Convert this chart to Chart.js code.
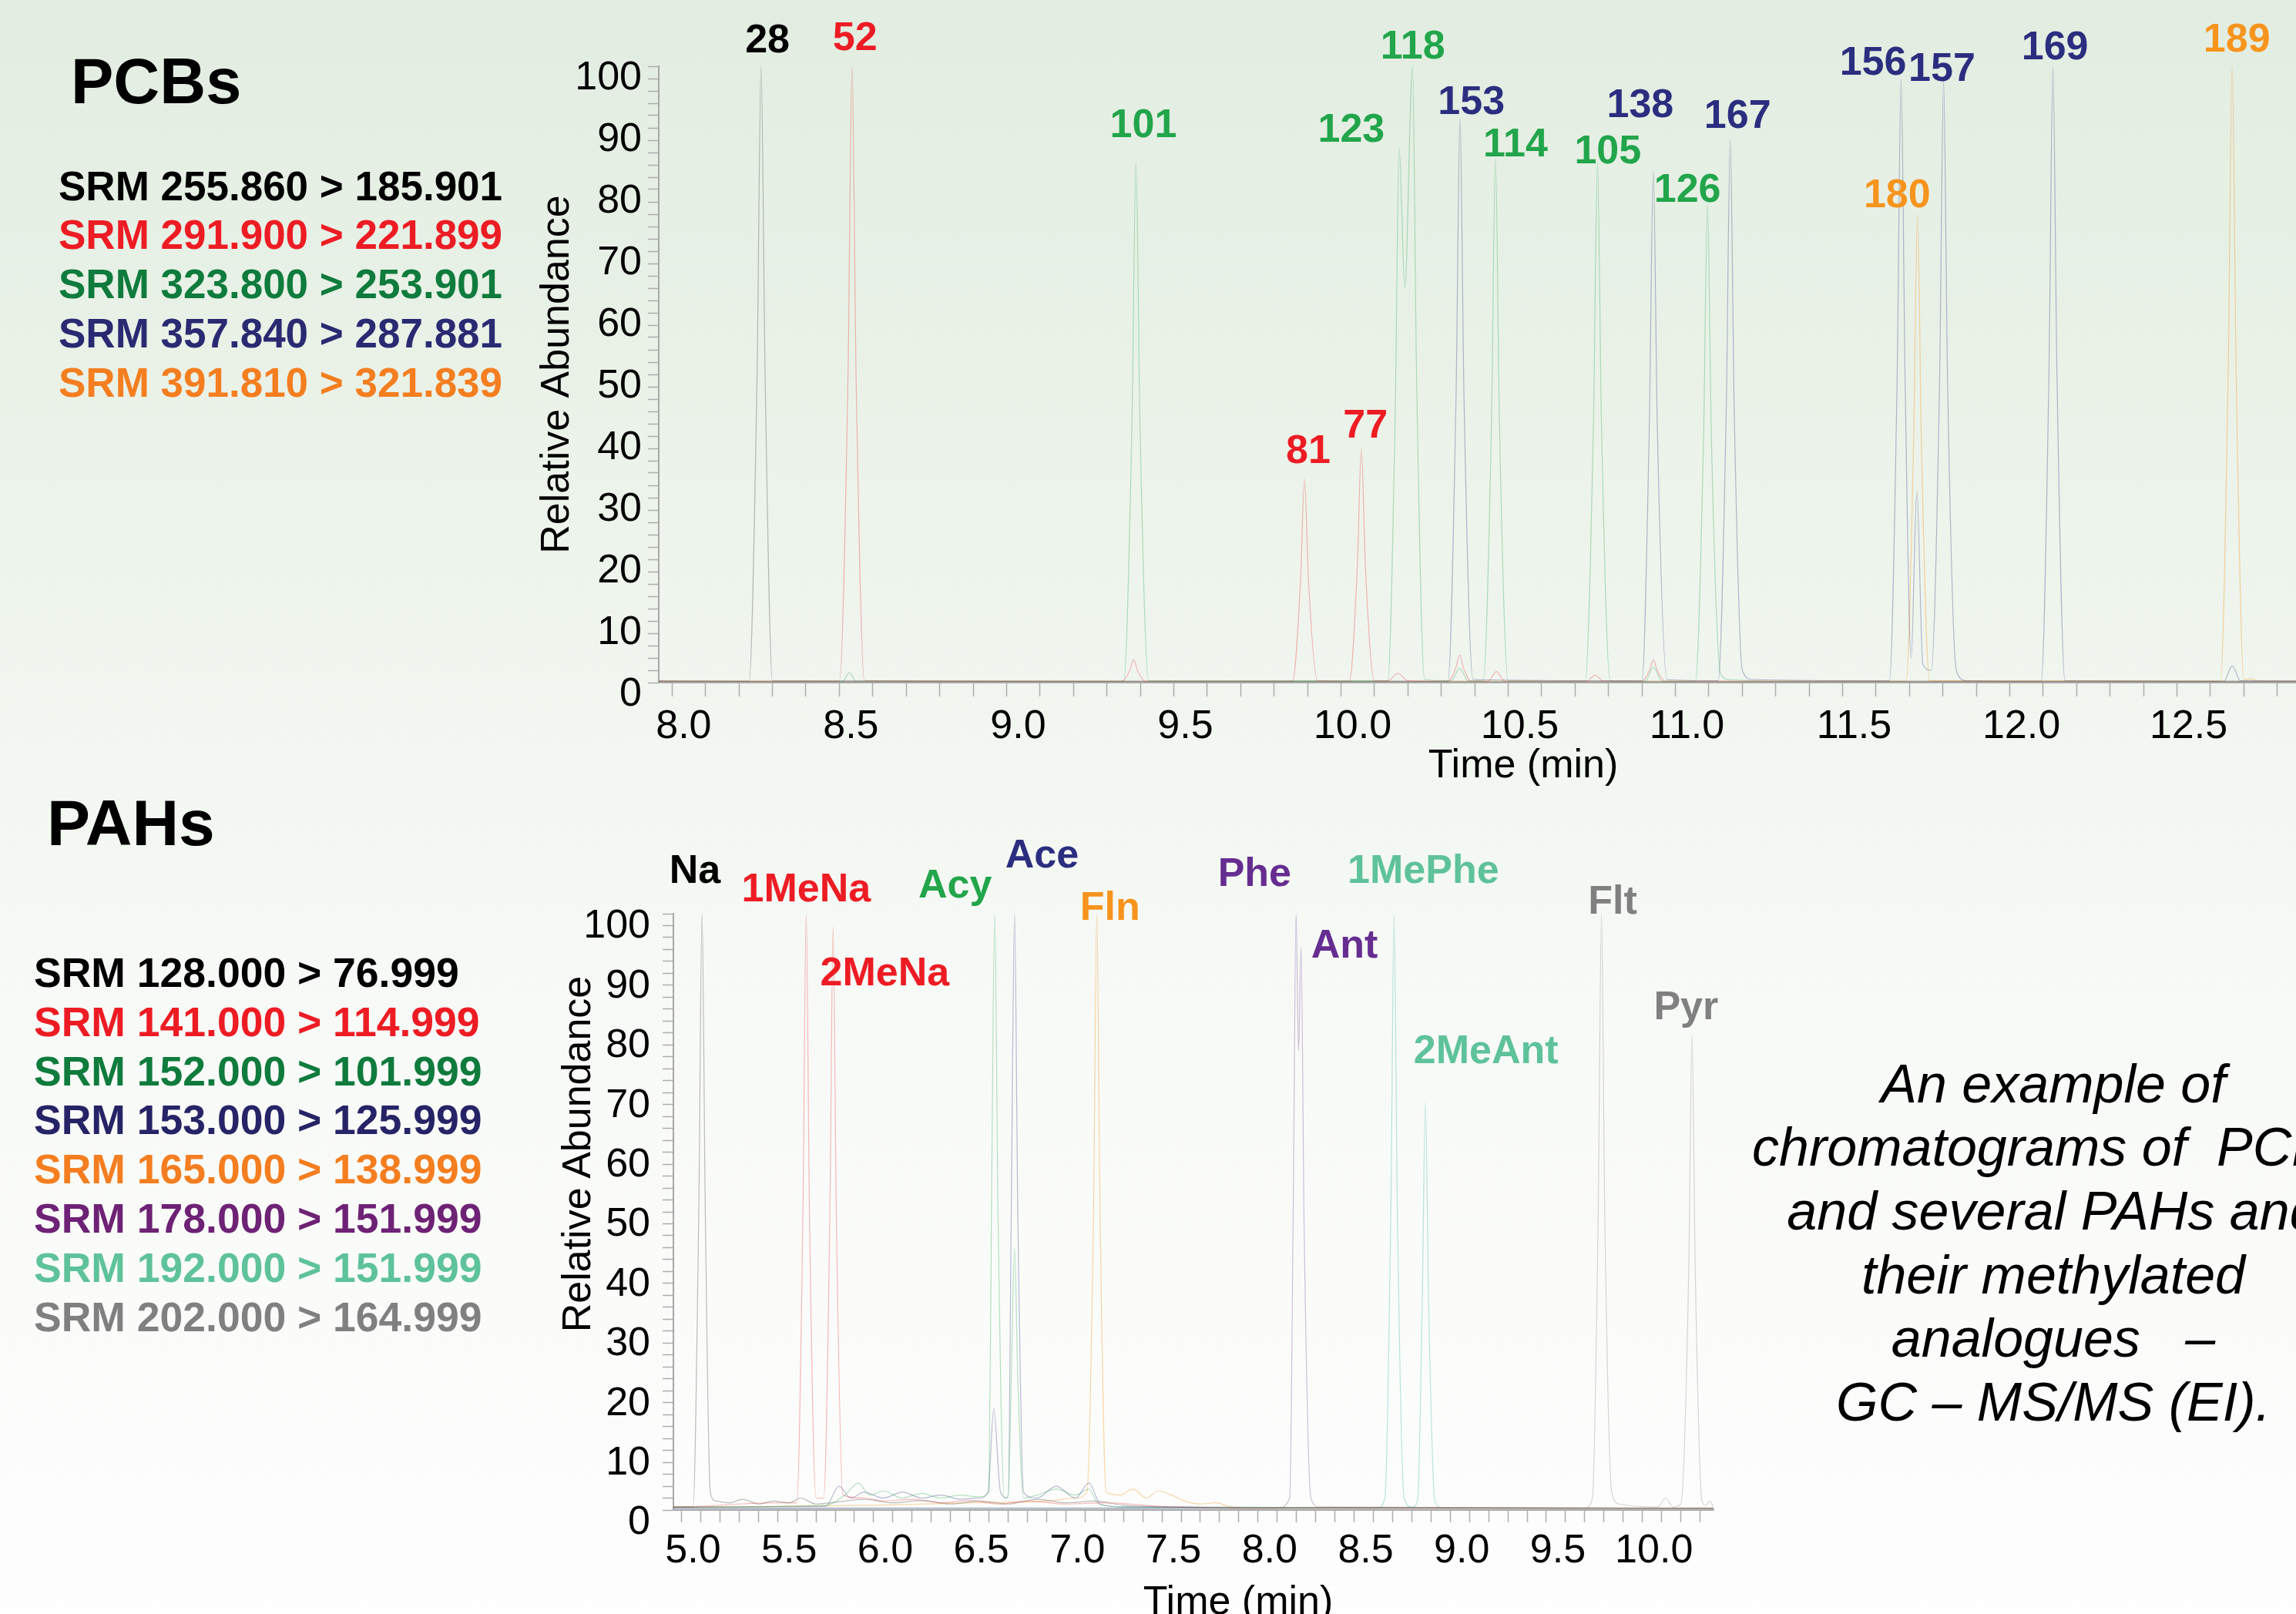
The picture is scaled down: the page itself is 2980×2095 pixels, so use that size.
<!DOCTYPE html>
<html>
<head>
<meta charset="utf-8">
<script src="https://cdn.jsdelivr.net/npm/chart.js@4.4.1/dist/chart.umd.min.js"></script>
<style>
  html, body { margin: 0; padding: 0; }
  body {
    width: 2980px; height: 2095px; overflow: hidden; position: relative;
    background: linear-gradient(to bottom, #e2ede1 0px, #eaf2e8 500px, #f2f7f1 1000px, #f8faf7 1350px, #fdfefd 2095px);
    font-family: "Liberation Sans", Arial, sans-serif;
  }
  canvas { position: absolute; left: 0; }
  #pcbChart { top: 0; }
  #pahChart { top: 1060px; }
  .txt { position: absolute; white-space: pre; line-height: 1; z-index: 2; }
  .head { font-weight: bold; color: #000; }
  .leg { font-weight: bold; }
  .cap { font-style: italic; font-size: 70px; width: 1200px; text-align: center; color: #000; }
  .axt { font-size: 52px; width: 600px; height: 52px; line-height: 52px; text-align: center; color: #000; }
</style>
</head>
<body>
<canvas id="pcbChart" width="3100" height="1060"></canvas>
<canvas id="pahChart" width="2980" height="1035"></canvas>
<div id="texts"></div>
<script>
// ---- PCB chromatogram (time min, relative abundance %) ----
const pcbCh1 = [[7.96,0.3],[8.23,0.2],[8.254,50],[8.266,100],[8.278,50],[8.30,0.3],[9.0,0.2],[11.0,0.2],[13.13,0.2]];
const pcbCh2 = [[7.96,0.2],[8.50,0.2],[8.526,50],[8.538,100],[8.550,50],[8.575,0.3],[9.345,0.2],[9.368,1.9],[9.38,3.7],[9.392,1.9],[9.415,0.2],
  [9.855,0.2],[9.879,16.5],[9.891,33],[9.903,16.5],[9.93,0.3],[10.025,0.2],[10.049,19],[10.061,38],[10.073,19],[10.10,0.3],
  [10.14,0.3],[10.17,1.5],[10.20,0.3],[10.32,0.2],[10.343,2.3],[10.355,4.5],[10.367,2.3],[10.39,0.2],[10.44,0.2],[10.465,1.8],[10.49,0.2],
  [10.735,0.2],[10.76,1.2],[10.785,0.2],[10.90,0.2],[10.922,1.9],[10.934,3.7],[10.946,1.9],[10.97,0.2],[13.13,0.2]];
const pcbCh3 = [[7.96,0.2],[8.51,0.2],[8.53,1.6],[8.55,0.2],[9.35,0.2],[9.375,42],[9.387,84.5],[9.399,42],[9.425,0.3],
  [10.14,0.3],[10.162,43],[10.174,86.7],[10.191,64],[10.214,100],[10.226,50],[10.25,0.5],[10.33,0.3],[10.355,2.3],[10.38,0.3],
  [10.425,0.3],[10.45,42],[10.462,85],[10.474,42],[10.50,0.3],[10.73,0.2],[10.755,42],[10.767,84.5],[10.779,42],[10.805,0.3],
  [10.91,0.2],[10.934,2.5],[10.96,0.2],[11.06,0.2],[11.084,39],[11.096,77.6],[11.108,39],[11.135,1.5],[11.16,0.5],[11.30,0.2],[13.13,0.2]];
const pcbCh4 = [[7.96,0.2],[10.32,0.2],[10.344,46],[10.356,91.5],[10.368,46],[10.395,0.5],[10.90,0.3],[10.922,41.5],[10.934,83],[10.946,41.5],[10.975,0.5],
  [11.128,0.3],[11.152,44],[11.164,88],[11.176,44],[11.20,2],[11.23,0.5],[11.64,0.3],[11.663,49],[11.675,98],[11.687,49],[11.705,4],
  [11.722,31],[11.74,3],[11.765,2],[11.79,48.7],[11.802,97.5],[11.814,48.7],[11.84,2],[11.87,0.3],[12.094,0.2],[12.117,50],[12.129,100],
  [12.141,50],[12.165,0.3],[12.64,0.2],[12.665,2.7],[12.69,0.3],[13.13,0.2]];
const pcbCh5 = [[7.96,0.2],[11.69,0.2],[11.712,38],[11.724,76],[11.736,38],[11.76,0.3],[12.63,0.2],[12.653,50],[12.665,100],[12.677,50],
  [12.70,0.5],[12.72,0.6],[12.75,0.2],[13.13,0.2]];
const pcbChannels = ['SRM 255.860 > 185.901', 'SRM 291.900 > 221.899', 'SRM 323.800 > 253.901', 'SRM 357.840 > 287.881', 'SRM 391.810 > 321.839'];
const pcbPeakNames = ['28','52','101','81','77','123','118','153','114','105','138','126','167','156','180','157','169','189'];
const pcbPeakChannel = [0,1,2,1,1,2,2,3,2,2,3,2,3,3,4,3,3,4];
const pcbPeakAnchor = [[8.285,102.2],[8.547,102.6],[9.409,88.5],[9.902,35.6],[10.073,39.8],[10.031,87.7],[10.215,101.2],[10.390,92.2],
  [10.522,85.4],[10.798,84.2],[10.895,91.7],[11.036,78],[11.186,90],[11.591,98.6],[11.663,77.1],[11.797,97.6],[12.135,101.1],[12.679,102.4]];
const pcbRangeX = [7.96, 13.13];

// ---- PAH chromatogram ----
const pahCh1 = [[4.958,0.5],[5.06,0.5],[5.09,50],[5.107,100],[5.124,50],[5.15,3],[5.18,1.5],[5.25,1.2],[5.32,1.8],[5.40,1.0],[5.48,1.5],
  [5.56,1.2],[5.62,2],[5.70,1.0],[5.80,1.3],[5.95,1.8],[6.10,1.2],[6.25,1.6],[6.40,1.0],[6.55,1.5],[6.70,1.0],[6.85,1.8],[7.00,1.2],
  [7.15,1.5],[7.30,0.8],[7.60,0.5],[8.0,0.3],[10.37,0.3]];
const pahCh2 = [[4.958,0.5],[5.1,0.6],[5.3,1.0],[5.5,1.2],[5.60,1.2],[5.632,50],[5.649,100],[5.666,50],[5.70,2],[5.74,2],[5.772,49],
  [5.789,97.8],[5.806,49],[5.84,2.5],[5.95,2],[6.05,1.5],[6.20,1.8],[6.35,1.2],[6.50,1.6],[6.65,1.0],[6.80,1.5],[7.00,1.0],[7.20,1.2],
  [7.50,0.6],[8.0,0.3],[10.37,0.3]];
const pahCh3 = [[4.958,0.5],[5.75,0.8],[5.85,2.5],[5.92,4.5],[5.98,2.5],[6.05,3.2],[6.15,2],[6.25,2.8],[6.35,2],[6.45,2.5],[6.55,2.2],
  [6.60,3],[6.613,50],[6.63,100],[6.647,50],[6.68,2],[6.70,2.5],[6.716,22],[6.733,44],[6.75,22],[6.78,2],[6.85,2.5],[6.95,3.5],
  [7.05,2.5],[7.12,3.5],[7.17,1],[7.3,0.5],[10.37,0.3]];
const pahCh4 = [[4.958,0.5],[5.75,0.6],[5.82,4],[5.88,2],[5.95,3],[6.05,2],[6.15,3],[6.25,2],[6.35,2.5],[6.45,1.8],[6.55,2],[6.595,3],
  [6.625,17],[6.66,3],[6.70,2],[6.716,50],[6.733,100],[6.75,50],[6.78,3],[6.85,2],[6.95,4],[7.05,2],[7.12,4.5],[7.18,1],[7.3,0.5],[10.37,0.3]];
const pahCh5 = [[4.958,0.5],[5.5,0.6],[6.0,0.8],[6.5,1.2],[6.9,1.5],[7.05,2],[7.11,3],[7.144,50],[7.161,100],[7.178,50],[7.21,3],[7.28,2.5],
  [7.35,3.5],[7.42,2],[7.48,3.2],[7.55,2.5],[7.62,1.5],[7.70,1],[7.78,1.2],[7.85,0.6],[7.95,0.4],[10.37,0.3]];
const pahCh6 = [[4.958,0.3],[8.10,0.3],[8.165,2],[8.183,50],[8.198,100],[8.211,77],[8.224,94.3],[8.24,47],[8.275,2],[8.32,0.5],[10.37,0.3]];
const pahCh7 = [[4.958,0.3],[8.62,0.3],[8.66,2],[8.691,50],[8.708,100],[8.725,50],[8.76,2],[8.80,0.5],[8.83,1.5],[8.854,34],[8.871,68.3],
  [8.888,34],[8.92,1.5],[8.96,0.3],[10.37,0.3]];
const pahCh8 = [[4.958,0.3],[9.70,0.3],[9.74,2],[9.77,50],[9.787,100],[9.804,50],[9.84,3],[9.88,1],[10.08,0.5],[10.12,2],[10.16,0.5],
  [10.20,1],[10.241,40],[10.258,79.8],[10.275,40],[10.31,1.5],[10.33,0.8],[10.35,1.5],[10.37,0.5]];
const pahChannels = ['SRM 128.000 > 76.999', 'SRM 141.000 > 114.999', 'SRM 152.000 > 101.999', 'SRM 153.000 > 125.999',
  'SRM 165.000 > 138.999', 'SRM 178.000 > 151.999', 'SRM 192.000 > 151.999', 'SRM 202.000 > 164.999'];
const pahPeakNames = ['Na','1MeNa','2MeNa','Acy','Ace','Fln','Phe','1MePhe','Ant','2MeAnt','Flt','Pyr'];
const pahPeakChannel = [0,1,1,2,3,4,5,6,5,6,7,7];
const pahPeakAnchor = [[5.070,105.2],[5.649,102.1],[6.058,88.0],[6.424,102.7],[6.876,107.8],[7.230,99.0],[7.982,104.6],[8.860,105.2],
  [8.450,92.6],[9.186,74.9],[9.845,100],[10.227,82.3]];
const pahRangeX = [4.958, 10.37];

const captionLines = ['An example of', 'chromatograms of  PCBs', 'and several PAHs and', 'their methylated', 'analogues   \u2013', 'GC \u2013 MS/MS (EI).'];

// colours
const pcbTrace = ['rgba(110,110,110,0.45)', 'rgba(237,28,36,0.3)', 'rgba(34,165,75,0.32)', 'rgba(43,46,127,0.32)', 'rgba(247,148,29,0.38)'];
const pcbLabelCol = ['#000000', '#ed1c24', '#22a54b', '#2b2e7f', '#f7941d'];
const pcbLegendCol = ['#000000', '#ed1c24', '#0f7b3d', '#2a2a72', '#f47e20'];
const pahTrace = ['rgba(110,110,110,0.45)', 'rgba(237,28,36,0.3)', 'rgba(34,165,75,0.32)', 'rgba(43,46,127,0.32)',
  'rgba(247,148,29,0.38)', 'rgba(102,45,145,0.3)', 'rgba(60,180,170,0.35)', 'rgba(140,140,140,0.35)'];
const pahLabelCol = ['#000000', '#ed1c24', '#22a54b', '#2b2e7f', '#f7941d', '#662d91', '#5ec29a', '#808080'];
const pahLegendCol = ['#000000', '#ed1c24', '#0f7b3d', '#262466', '#f47e20', '#6e2275', '#5ec29a', '#808080'];

const FAM = '"Liberation Sans", Arial, sans-serif';
const axisFont = {family: FAM, size: 52};

const peakLabels = {
  id: 'peakLabels',
  afterDatasetsDraw(chart, args, opts) {
    const {ctx} = chart;
    const x = chart.scales.x, y = chart.scales.y;
    ctx.save();
    ctx.font = 'bold 52px ' + FAM;
    ctx.textAlign = 'center';
    ctx.textBaseline = 'alphabetic';
    opts.names.forEach((n, i) => {
      ctx.fillStyle = opts.colors[opts.channel[i]];
      ctx.fillText(n, x.getPixelForValue(opts.anchor[i][0]), y.getPixelForValue(opts.anchor[i][1]));
    });
    ctx.restore();
  }
};

function traceSets(series, colors) {
  return series.map((s, i) => ({
    data: s.map(p => ({x: p[0], y: p[1]})),
    borderColor: colors[i],
    borderWidth: 1.2,
    pointRadius: 0,
    cubicInterpolationMode: 'monotone',
    fill: false
  }));
}

// ticks every 0.1 min inside the axis range
function tenthTicks(scale) {
  const t = [];
  for (let k = Math.ceil(scale.min * 10 - 1e-9); k <= Math.floor(scale.max * 10 + 1e-9); k++) t.push({value: k / 10});
  scale.ticks = t;
}

function buildChart(id, o) {
  return new Chart(document.getElementById(id), {
    type: 'line',
    data: {datasets: traceSets(o.series, o.colors)},
    options: {
      responsive: false,
      animation: false,
      devicePixelRatio: 1,
      layout: {padding: o.padding},
      plugins: {legend: {display: false}, tooltip: {enabled: false}, peakLabels: o.labels},
      scales: {
        x: {
          type: 'linear', min: o.xRange[0], max: o.xRange[1],
          afterBuildTicks: tenthTicks,
          afterFit: s => { s.height = o.xHeight; },
          border: {color: '#a8a8a8', width: 2},
          grid: {drawOnChartArea: false, tickLength: o.xTick, color: '#adadad', tickWidth: 1.5},
          ticks: {
            autoSkip: false, maxRotation: 0, minRotation: 0, labelOffset: 15,
            padding: o.xPad, color: '#000', font: axisFont,
            callback: v => Math.abs(v * 2 - Math.round(v * 2)) < 1e-6 ? v.toFixed(1) : ''
          },
          title: o.xTitle
        },
        y: {
          min: 0, max: 100,
          afterFit: s => { s.width = o.yWidth; },
          border: {color: '#a8a8a8', width: 2},
          grid: {drawOnChartArea: false, tickLength: 14, color: '#adadad', tickWidth: 1.5},
          ticks: {
            stepSize: 2, autoSkip: false, padding: o.yPad, labelOffset: o.yLabelOffset, color: '#000', font: axisFont,
            callback: v => v % 10 === 0 ? String(v) : ''
          },
          title: o.yTitle
        }
      }
    },
    plugins: [peakLabels]
  });
}

buildChart('pcbChart', {
  series: [pcbCh1, pcbCh2, pcbCh3, pcbCh4, pcbCh5],
  colors: pcbTrace,
  padding: {left: 600, top: 86, right: 1, bottom: 24},
  xRange: pcbRangeX, xHeight: 150, xTick: 18, xPad: 8,
  yWidth: 255, yPad: 8, yLabelOffset: 16,
  xTitle: {display: true, text: 'Time (min)', color: '#000', font: axisFont, padding: {top: 0, bottom: 10}},
  yTitle: {display: true, text: 'Relative Abundance', color: '#000', font: axisFont, padding: {top: 92, bottom: 0}},
  labels: {names: pcbPeakNames, channel: pcbPeakChannel, anchor: pcbPeakAnchor, colors: pcbLabelCol}
});

buildChart('pahChart', {
  series: [pahCh1, pahCh2, pahCh3, pahCh4, pahCh5, pahCh6, pahCh7, pahCh8],
  colors: pahTrace,
  padding: {left: 600, top: 126, right: 756, bottom: 35},
  xRange: pahRangeX, xHeight: 100, xTick: 16, xPad: 6,
  yWidth: 274, yPad: 16, yLabelOffset: 17,
  xTitle: {display: false},
  yTitle: {display: false},
  labels: {names: pahPeakNames, channel: pahPeakChannel, anchor: pahPeakAnchor, colors: pahLabelCol}
});

// ---- text blocks ----
const box = document.getElementById('texts');
function addText(cls, text, css) {
  const d = document.createElement('div');
  d.className = 'txt ' + cls;
  d.textContent = text;
  Object.assign(d.style, css);
  box.appendChild(d);
}
addText('head', 'PCBs', {left: '92px', top: '64px', fontSize: '83px'});
pcbChannels.forEach((t, i) => addText('leg', t, {left: '76px', top: (214.5 + i * 63.8) + 'px', fontSize: '53px', color: pcbLegendCol[i]}));
addText('head', 'PAHs', {left: '61px', top: '1026px', fontSize: '84px'});
pahChannels.forEach((t, i) => addText('leg', t, {left: '44px', top: (1236 + i * 63.8) + 'px', fontSize: '53.5px', color: pahLegendCol[i]}));
captionLines.forEach((t, i) => addText('cap', t, {left: '2065px', top: (1371.7 + i * 82.6) + 'px'}));
addText('axt', 'Relative Abundance', {left: '448px', top: '1472px', transform: 'rotate(-90deg)'});
addText('axt', 'Time (min)', {left: '1307px', top: '2051px'});
</script>
</body>
</html>
